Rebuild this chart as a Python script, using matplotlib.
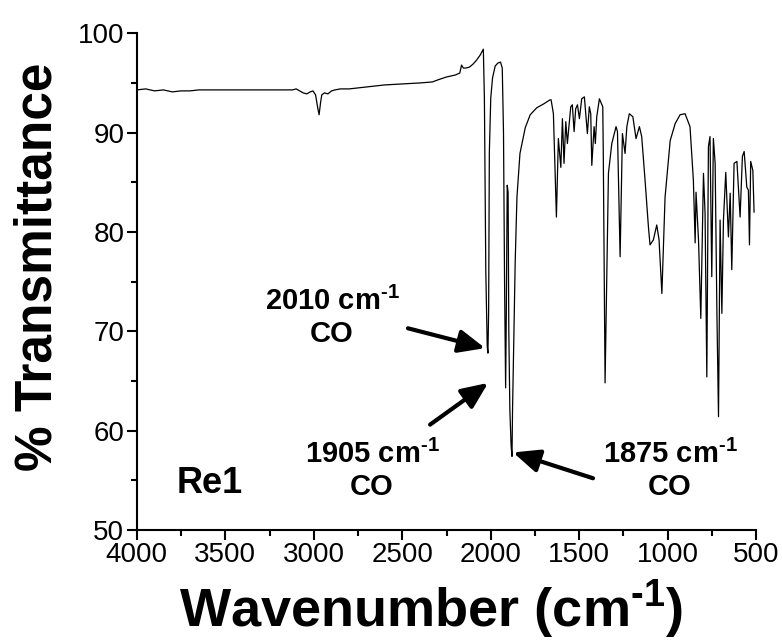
import matplotlib
matplotlib.use("Agg")
import matplotlib.pyplot as plt

plt.rcParams['font.family'] = ['Liberation Sans', 'DejaVu Sans']
plt.rcParams['mathtext.fontset'] = 'custom'
plt.rcParams['mathtext.rm'] = 'Liberation Sans'
plt.rcParams['mathtext.bf'] = 'Liberation Sans:bold'
plt.rcParams['mathtext.it'] = 'Liberation Sans:italic'

# IR spectrum of Re1 (wavenumber in cm-1, % transmittance)
wavenumber = [
    4000, 3950, 3900, 3850, 3800, 3750, 3700, 3650, 3600, 3500, 3400, 3300,
    3200, 3120, 3100, 3080, 3060, 3040, 3020, 3005, 2990, 2978, 2970, 2962,
    2955, 2940, 2920, 2900, 2880, 2850, 2800, 2700, 2600, 2500, 2400, 2330,
    2300, 2250, 2200, 2175, 2165, 2155, 2140, 2120, 2100, 2080, 2060, 2045,
    2042, 2036, 2028, 2020, 2016, 2012, 2008, 2000, 1990, 1975, 1960, 1945,
    1935, 1928, 1922, 1916, 1912, 1907, 1902, 1898, 1892, 1885, 1880, 1877,
    1872, 1862, 1852, 1835, 1805, 1777, 1740, 1700, 1665,
    1659, 1646, 1629, 1618, 1604, 1595, 1586, 1576, 1567, 1548, 1539, 1529,
    1520, 1510, 1499, 1486, 1471, 1454, 1443, 1435, 1429, 1416, 1409, 1401,
    1386, 1367, 1364, 1354, 1335, 1316, 1292, 1284, 1269, 1256, 1241, 1231,
    1217, 1197, 1179, 1160, 1147, 1128, 1109, 1100, 1081, 1062, 1049, 1033,
    1015, 986, 958, 930, 902, 874, 855, 845, 840, 826, 813, 798, 789, 779,
    770, 761, 751, 742, 732, 722, 713, 704, 694, 685, 672, 657, 647, 638,
    625, 609, 591, 578, 568, 553, 544, 538, 531, 519, 512,
]
transmittance = [
    94.3, 94.4, 94.2, 94.3, 94.1, 94.2, 94.2, 94.3, 94.3, 94.3, 94.3, 94.3,
    94.3, 94.3, 94.4, 94.2, 94.0, 93.9, 94.1, 94.2, 93.8, 92.5, 91.8, 93.0,
    93.8, 94.0, 93.9, 94.2, 94.3, 94.4, 94.4, 94.6, 94.8, 94.9, 95.0, 95.1,
    95.3, 95.6, 95.8, 96.0, 96.8, 96.5, 96.5, 96.6, 96.9, 97.3, 97.8, 98.3,
    98.4, 93.5, 76.0, 68.5, 67.8, 72.0, 88.0, 93.5, 95.5, 96.7, 97.0, 97.1,
    96.5, 90.0, 75.0, 64.3, 72.0, 84.7, 84.0, 70.0, 62.0, 58.5, 57.4, 62.0,
    66.8, 76.9, 83.5, 87.9, 90.5, 91.8, 92.5, 92.9, 93.3,
    93.3, 91.9, 81.5, 89.4, 86.5, 91.4, 86.9, 91.1, 88.9, 92.6, 92.8, 90.1,
    92.4, 92.8, 91.4, 93.4, 93.6, 89.9, 92.6, 91.9, 86.7, 90.6, 88.9, 91.6,
    93.4, 92.6, 87.6, 64.8, 85.9, 88.9, 90.6, 90.1, 77.5, 89.9, 87.9, 90.6,
    91.9, 91.6, 89.4, 90.6, 89.6, 85.2, 80.5, 78.7, 79.2, 80.7, 79.2, 73.8,
    83.5, 89.2, 90.9, 91.8, 91.9, 90.6, 85.2, 78.9, 84.0, 79.2, 71.3, 85.9, 81.9, 65.4,
    88.6, 89.6, 75.5, 89.4, 86.9, 71.8, 61.4, 81.2, 71.8, 81.2, 86.0, 79.5, 83.9, 76.2,
    86.9, 87.1, 81.5, 87.6, 88.1, 84.5, 84.2, 78.7, 87.1, 86.2, 82.0,
]

x_ticks = [4000, 3500, 3000, 2500, 2000, 1500, 1000, 500]
y_ticks = [50, 60, 70, 80, 90, 100]

SUP = "$^{\\mathbf{\u2010}\\mathbf{1}}$"
# annotations: (label, text position, arrow tail, arrow tip)
ann_labels = ["2010 cm" + SUP + "\nCO", "1905 cm" + SUP + "\nCO", "1875 cm" + SUP + "\nCO"]
ann_text_xy = [(2897, 71.4), (2671, 56.0), (987, 56.0)]
ann_tail = [(2468, 70.3), (2343, 60.6), (1422, 55.2)]
ann_tip = [(2032, 68.3), (2015, 64.8), (1874, 57.8)]
sample_label = "Re1"
sample_xy = (3587, 54.7)

fig = plt.figure(figsize=(7.82, 6.4), dpi=100)
ax = fig.add_axes([0.175, 0.172, 0.792, 0.776])
ax.plot(wavenumber, transmittance, color='black', lw=0.9)

ax.set_xlim(4000, 500)
ax.set_ylim(50, 100)
ax.set_xticks(x_ticks)
ax.set_yticks(y_ticks)
ax.set_xticks([3750, 3250, 2750, 2250, 1750, 1250, 750], minor=True)
ax.set_yticks([55, 65, 75, 85, 95], minor=True)
for s in ['top', 'right']:
    ax.spines[s].set_visible(False)
for s in ['left', 'bottom']:
    ax.spines[s].set_linewidth(1.5)
ax.tick_params(which='major', direction='out', length=7, width=1.5, labelsize=20, pad=2)
ax.tick_params(which='minor', direction='out', length=4, width=1.5)

ax.set_xlabel("Wavenumber (cm" + SUP + ")", fontsize=39, fontweight='bold')
ax.xaxis.set_label_coords(0.475, -0.097)
ax.set_ylabel("% Transmittance", fontsize=37, fontweight='bold')
ax.yaxis.set_label_coords(-0.12, 0.53)

for lab, txy, tail, tip in zip(ann_labels, ann_text_xy, ann_tail, ann_tip):
    ax.text(txy[0], txy[1], lab, fontsize=21, fontweight='bold', ha='center', va='center',
            multialignment='center', linespacing=1.2)
    ax.annotate("", xy=tip, xytext=tail,
                arrowprops=dict(arrowstyle='-|>,head_length=0.8,head_width=0.35',
                                lw=3, color='black', mutation_scale=20,
                                shrinkA=0, shrinkB=0))

ax.text(sample_xy[0], sample_xy[1], sample_label, fontsize=26, fontweight='bold', ha='center', va='center')

fig.savefig("out.png", dpi=100)
